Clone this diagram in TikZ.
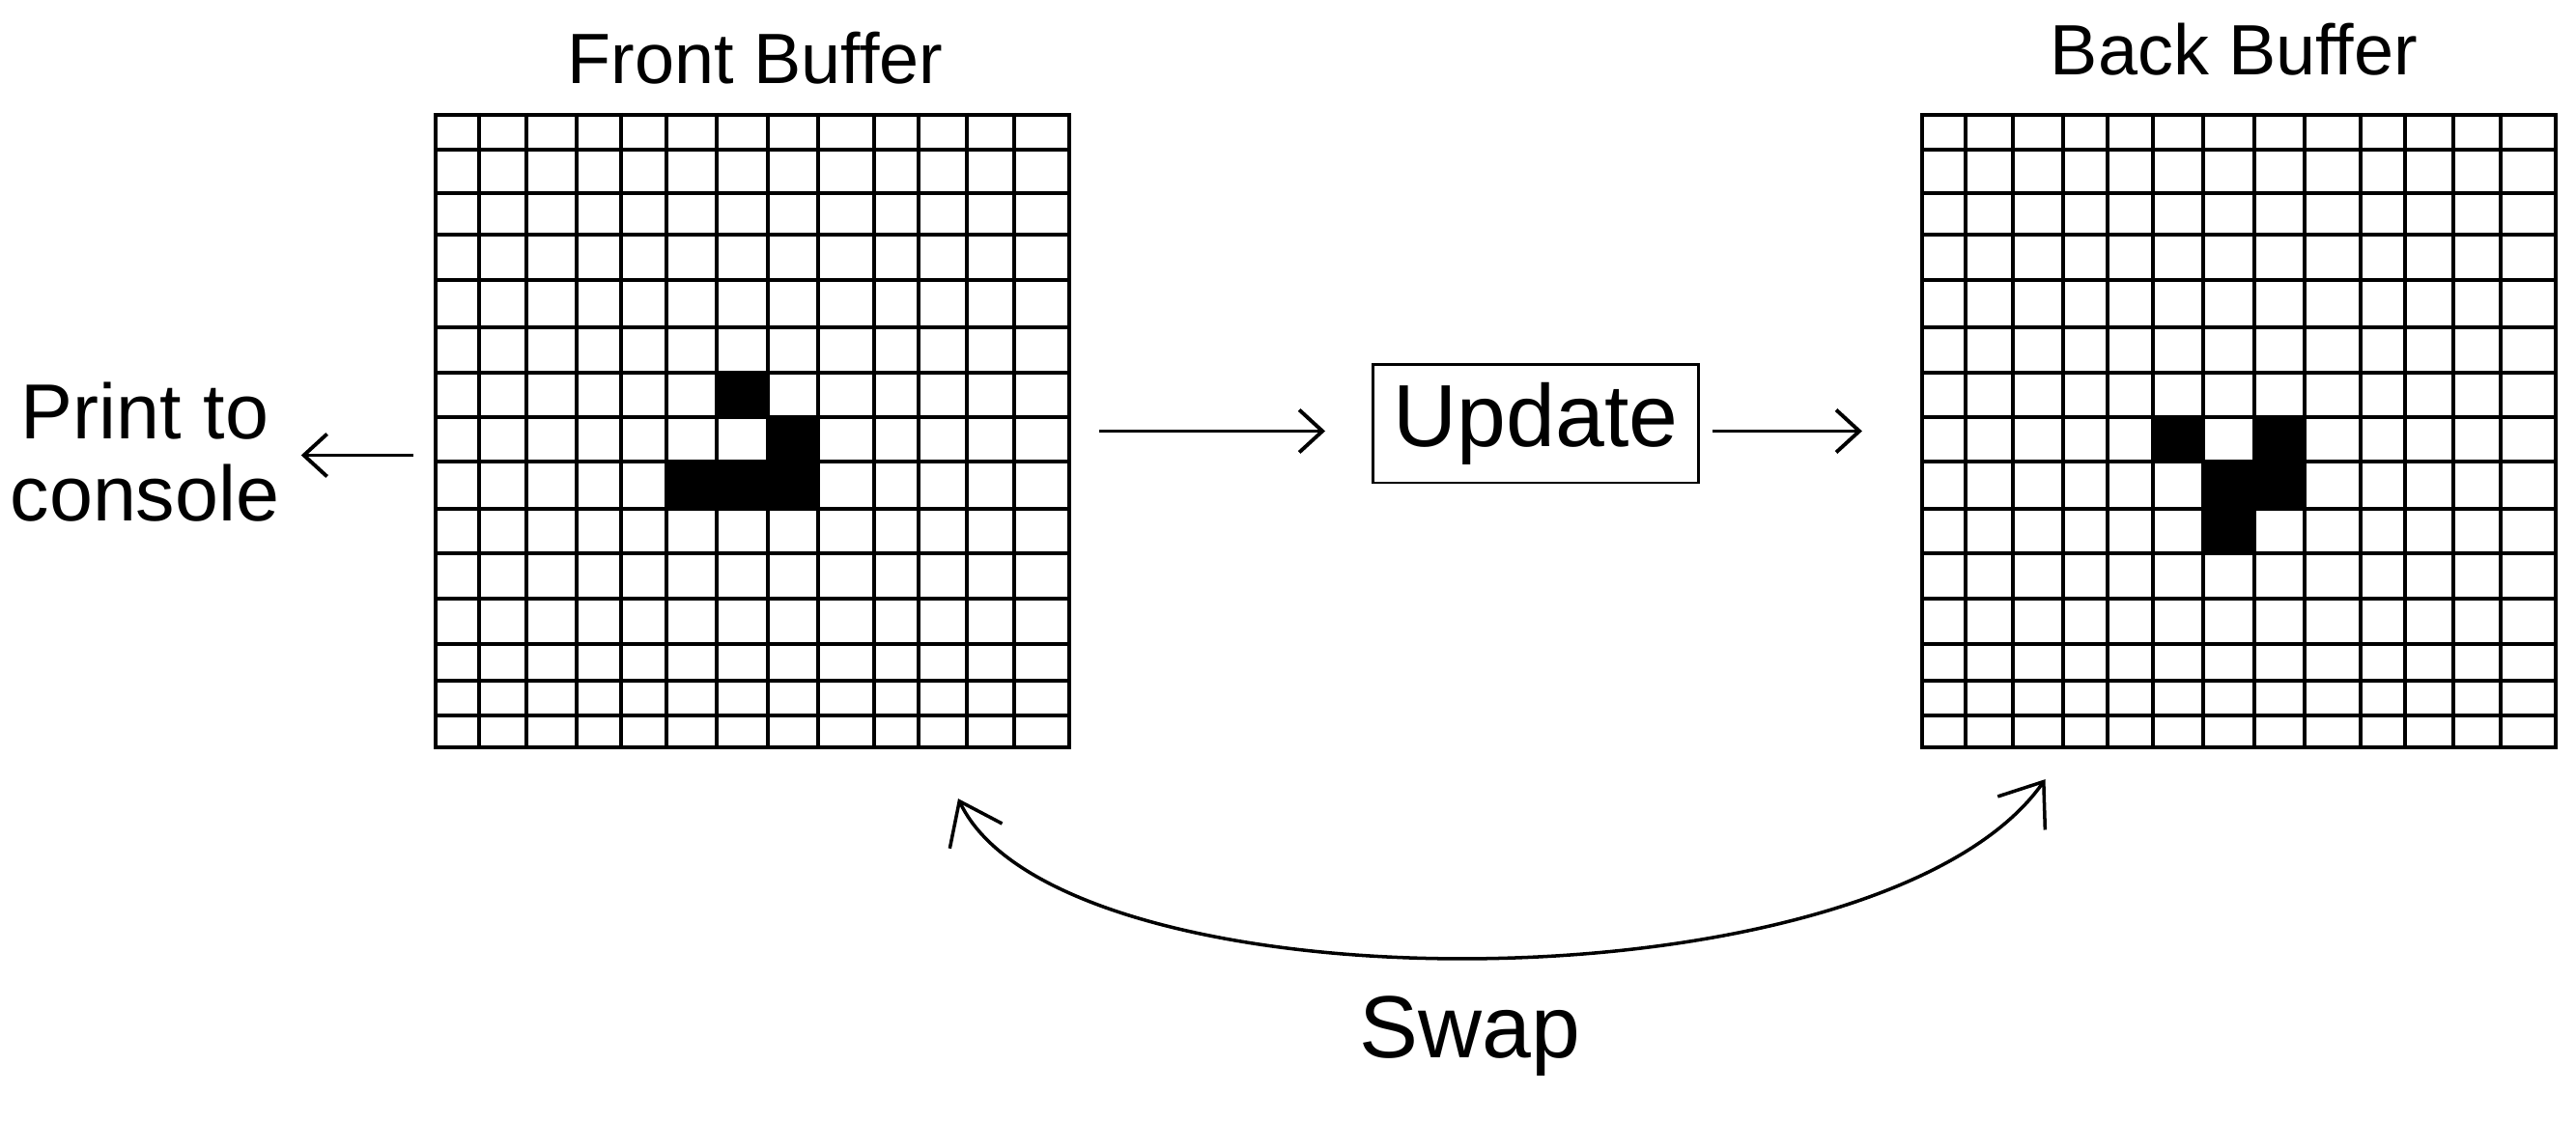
\documentclass[tikz,border=0pt]{standalone}
\usepackage{fontspec}
\setmainfont{Liberation Sans}
\usetikzlibrary{arrows.meta}

\def\colpos{{0,0.47,0.96,1.48,1.94,2.41,2.93,3.46,3.98,4.56,5.02,5.52,6.01,6.56}}
\def\rowpos{{0,0.38,0.83,1.26,1.73,2.22,2.69,3.15,3.61,4.10,4.56,5.03,5.50,5.88,6.24,6.55}}
\newcommand{\livecell}[3]{%
  \pgfmathsetmacro{\cellxa}{\colpos[#3]}%
  \pgfmathsetmacro{\cellxb}{\colpos[#3+1]}%
  \pgfmathsetmacro{\cellya}{\rowpos[#2]}%
  \pgfmathsetmacro{\cellyb}{\rowpos[#2+1]}%
  \fill ([shift={(\cellxa,-\cellya)}]#1.north west) rectangle ([shift={(\cellxb,-\cellyb)}]#1.north west);}

\begin{document}
\begin{tikzpicture}[auto,
  buffer/.style={draw, line width=1.2pt, inner sep=0pt, minimum width=6.56cm, minimum height=6.55cm},
  gridline/.style={line width=1.2pt},
  arr/.style={line width=1.1pt, -{Straight Barb[length=2.4mm, width=4.4mm]}},
  swaparr/.style={line width=1pt, {Straight Barb[length=4mm, width=6mm]}-{Straight Barb[length=4mm, width=6mm]}}]

  \useasboundingbox (0, 0) rectangle (26.67, 11.6);

  \node[buffer] (front) at (7.79, 7.135) {};
  \node[buffer] (back) at (23.18, 7.135) {};
  \foreach \g in {front, back} {
    \foreach \x in {0.47,0.96,1.48,1.94,2.41,2.93,3.46,3.98,4.56,5.02,5.52,6.01}
      \draw[gridline] ([xshift=\x cm]\g.north west) -- ([xshift=\x cm]\g.south west);
    \foreach \y in {0.38,0.83,1.26,1.73,2.22,2.69,3.15,3.61,4.10,4.56,5.03,5.50,5.88,6.24}
      \draw[gridline] ([yshift=-\y cm]\g.north west) -- ([yshift=-\y cm]\g.north east);
  }

  \livecell{front}{6}{6}
  \livecell{front}{7}{7}
  \livecell{front}{8}{5}
  \livecell{front}{8}{6}
  \livecell{front}{8}{7}

  \livecell{back}{7}{5}
  \livecell{back}{7}{7}
  \livecell{back}{8}{6}
  \livecell{back}{8}{7}
  \livecell{back}{9}{6}

  \node[font=\fontsize{21}{25}\selectfont] (fronttitle) at (7.82, 11.0) {Front Buffer};
  \node[font=\fontsize{21}{25}\selectfont] (backtitle) at (23.13, 11.09) {Back Buffer};
  \node[draw, line width=0.85pt, minimum width=3.37cm, minimum height=1.22cm,
    font=\fontsize{26}{30}\selectfont] (upd) at (15.90, 7.21) {Update};
  \node[align=center, font=\fontsize{23}{24}\selectfont] (print) at (1.50, 6.92) {Print to\\console};
  \node[font=\fontsize{26}{30}\selectfont] (swap) at (15.22, 0.87) {Swap};

  \draw[arr, shorten <=0.29cm, shorten >=0.48cm] (front.east) -- (front.east -| upd.west);
  \draw[arr, shorten <=0.13cm, shorten >=0.6cm] (upd.east |- back.west) -- (back.west);
  \draw[arr, shorten <=0.21cm, shorten >=0.1cm] ([yshift=-0.25cm]front.west) -- ([yshift=-0.25cm]front.west -| print.east);
  \draw[swaparr] ([xshift=2.13cm, yshift=-0.51cm]front.south) .. controls +(1.06, -2.23) and +(-1.71, -2.43) .. ([xshift=-2.005cm, yshift=-0.31cm]back.south);

\end{tikzpicture}
\end{document}
